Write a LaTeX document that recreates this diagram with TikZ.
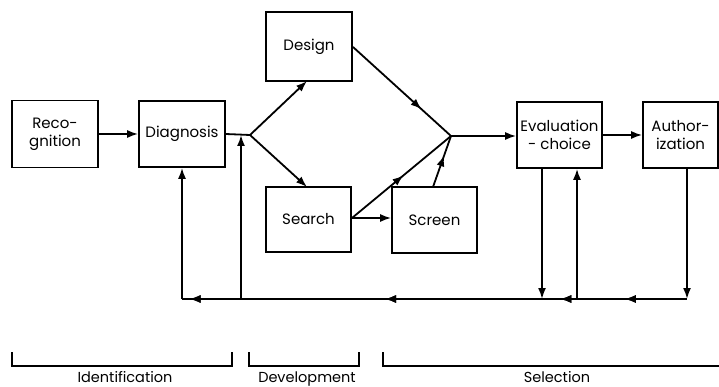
\documentclass[tikz,border=0pt]{standalone}
\usepackage{fontspec}
\setmainfont{Poppins}
\usetikzlibrary{arrows.meta,decorations.markings}
\tikzset{
  box/.style={draw, line width=1.6pt, inner sep=0pt, align=center, font=\fontsize{15}{18}\selectfont},
  conn/.style={line width=1.8pt},
  tip/.style={conn, -{Latex[length=11pt,width=8pt]}},
  midarr/.style={conn, postaction={decorate}, decoration={markings, mark=at position #1 with {\arrow{Latex[length=11pt,width=8pt]}}}},
  lbl/.style={font=\fontsize{14.5}{17}\selectfont, inner sep=0pt, anchor=base},
  brk/.style={line width=1.5pt}
}
\begin{document}
\begin{tikzpicture}[x=1pt,y=-1pt]
\useasboundingbox (0,0) rectangle (719,387);
% boxes
\node[box, minimum width=86pt, minimum height=67pt] (rec) at (55,134) {Reco-\\gnition};
\node[box, minimum width=86pt, minimum height=66pt] (diag) at (182,134) {Diagnosis};
\node[box, minimum width=86pt, minimum height=69pt] (des) at (309,46.5) {Design};
\node[box, minimum width=85pt, minimum height=65pt] (sea) at (308.5,219.5) {Search};
\node[box, minimum width=85pt, minimum height=66pt] (scr) at (434.5,220) {Screen};
\node[box, minimum width=85pt, minimum height=66pt] (eva) at (559.5,135) {Evaluation\\- choice};
\node[box, minimum width=75pt, minimum height=66pt] (aut) at (680.5,135) {Author-\\ization};
% junctions
\coordinate (j1) at (250,135);
\coordinate (j2) at (451,136);
\coordinate (desin) at (307,81);
\coordinate (seain) at (307,187);
\coordinate (desout) at (353,47);
\coordinate (seaout) at (352,218);
\coordinate (scrout) at (433,187);
% forward connectors
\draw[tip] (rec.east) -- (diag.west);
\draw[conn] (diag.east) -- (j1);
\draw[tip] (j1) -- (desin);
\draw[tip] (j1) -- (seain);
\draw[midarr=0.7] (desout) -- (j2);
\draw[midarr=0.52] (seaout) -- (j2);
\draw[tip] (seaout) -- (scr.west |- seaout);
\draw[midarr=0.62] (scrout) -- (j2);
\draw[tip] (j2) -- (eva.west |- j2);
\draw[tip] (eva.east) -- (aut.west);
% feedback
\coordinate (fa) at (687,299);
\coordinate (fe1) at (542,299);
\coordinate (fe2) at (577,299);
\coordinate (fv) at (241,299);
\coordinate (fv2) at (241,135);
\coordinate (fl) at (182,299);
\draw[tip] (aut.south -| fa) -- (fa);
\draw[tip] (eva.south -| fe1) -- (fe1);
\draw[tip] (fe2) -- (eva.south -| fe2);
\draw[midarr=0.123, postaction={decorate}, decoration={markings,
  mark=at position 0.251 with {\arrow{Latex[length=11pt,width=8pt]}},
  mark=at position 0.598 with {\arrow{Latex[length=11pt,width=8pt]}},
  mark=at position 0.985 with {\arrow{Latex[length=11pt,width=8pt]}}}] (fa) -- (fl);
\draw[tip] (fl) -- (diag.south);
\draw[tip] (fv) -- (fv2);
% brackets
\draw[brk] (12,352) -- (12,366) -- (232,366) -- (232,352);
\draw[brk] (249,352) -- (249,366) -- (359,366) -- (359,352);
\draw[brk] (383,352) -- (383,366) -- (722,366);
\node[lbl] (lid) at (125,382) {Identification};
\node[lbl] (ldev) at (307,382) {Development};
\node[lbl] (lsel) at (557,382) {Selection};
\end{tikzpicture}
\end{document}
